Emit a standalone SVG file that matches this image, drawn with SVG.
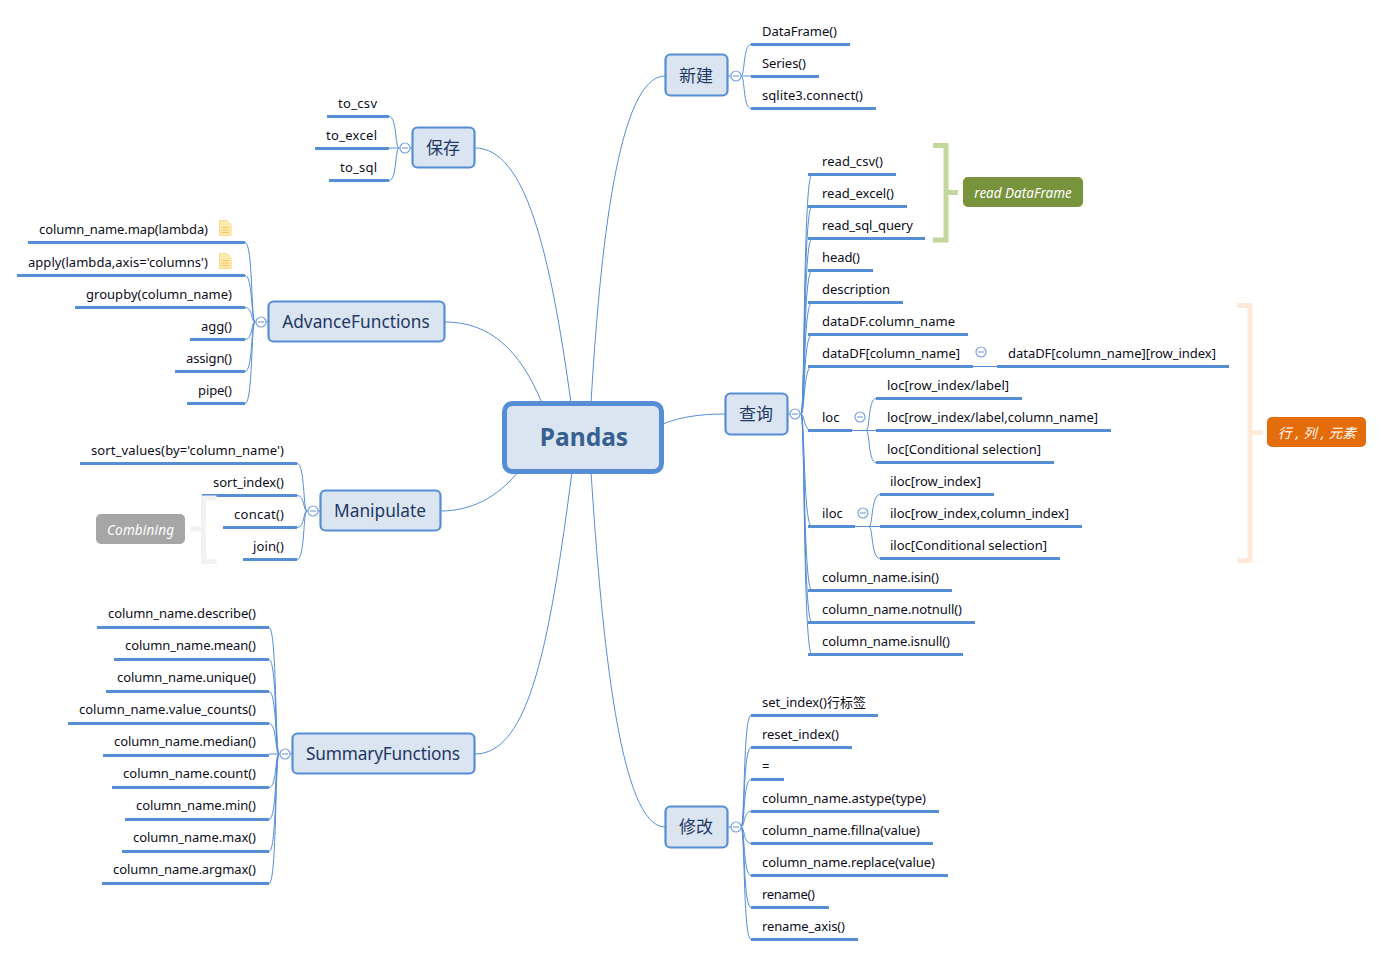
<svg xmlns="http://www.w3.org/2000/svg" width="1382" height="956" viewBox="0 0 1382 956">
<style>
text{font-family:"Noto Sans","Noto Sans CJK SC",sans-serif}
.t{font-size:13px;fill:#0d0d1a}
.r{text-anchor:end}
.h{font-size:17.300px;fill:#1f3864;text-anchor:middle}
.z{font-size:17px}
.b{fill:#dbe5f1;stroke:#558ed5;stroke-width:2.200}
.u{stroke:#558ed5;stroke-width:3;fill:none}
.c{stroke:#558ed5;stroke-width:1;fill:none}
.o{fill:#fff;stroke:#7ba4dc;stroke-width:1.200}
.m{stroke:#7ba4dc;stroke-width:1.200}
.g{font-size:13.500px;font-style:italic;fill:#fff;text-anchor:middle}
.br{fill:none;stroke-width:5}
.n{fill:#fee9ae;stroke:#fbd98a;stroke-width:1}
.nl{stroke:#f6c95c;stroke-width:1}
</style>
<defs>
<g id="col"><circle class="o" r="5"/><path class="m" d="M-3 0H3"/></g>
<g id="note"><path class="n" d="M0 0H7.500L11.500 4V15H0Z"/><path class="nl" d="M2 7H9.500M2 9.500H9.500M2 12H9.500"/></g>
</defs>
<g id="connectors">
<path class="c" d="M591 403C600 250 618 76 665 76"/>
<path class="c" d="M663 424C680 417 700 414 725 414"/>
<path class="c" d="M591 472C602 640 620 827 665 827"/>
<path class="c" d="M571 403C550 250 525 148 475 148"/>
<path class="c" d="M542 403C520 350 490 322 445 322"/>
<path class="c" d="M518 472C497 498 470 511 441 511"/>
<path class="c" d="M572 472C550 640 530 754 475 754"/>
<g id="right-branches" transform="translate(0,-0.500)">
<path class="c" d="M728 76.500H741M741 76.500C745 76.500 743 45 751 45M741 76.500H751M741 76.500C745 76.500 743 109 751 109"/>
<path class="c" d="M788 414.500H801M801 414.500C805 414.500 803 175 812 175M801 414.500C805 414.500 803 207 812 207M801 414.500C805 414.500 803 239 812 239M801 414.500C805 414.500 803 271 812 271M801 414.500C805 414.500 803 303 812 303M801 414.500C805 414.500 803 335 812 335M801 414.500C805 414.500 803 367 812 367M801 414.500C805 414.500 803 431 812 431M801 414.500C805 414.500 803 527 812 527M801 414.500C805 414.500 803 591 812 591M801 414.500C805 414.500 803 623 812 623M801 414.500C805 414.500 803 655 812 655"/>
<path class="c" d="M973 367H997M852 431H876M866 431C870 431 868 399 876 399M866 431C870 431 868 463 876 463M855 527H880M869 527C873 527 871 495 880 495M869 527C873 527 871 559 880 559"/>
<path class="c" d="M728 827.500H741M741 827.500C745 827.500 743 716 751 716M741 827.500C745 827.500 743 748 751 748M741 827.500C745 827.500 743 780 751 780M741 827.500C745 827.500 743 812 751 812M741 827.500C745 827.500 743 844 751 844M741 827.500C745 827.500 743 876 751 876M741 827.500C745 827.500 743 908 751 908M741 827.500C745 827.500 743 940 751 940"/>
<path class="u" d="M751 45H850M751 77H819M751 109H876"/>
<path class="u" d="M808 175H896M808 207H907M808 239H925M808 271H873M808 303H903M808 335H968M808 367H973M808 431H852M808 527H855M808 591H952M808 623H975M808 655H963"/>
<path class="u" d="M997 367H1229M876 399H1022M876 431H1111M876 463H1054M880 495H994M880 527H1082M880 559H1060"/>
<path class="u" d="M751 716H878M751 748H852M751 780H784M751 812H939M751 844H933M751 876H948M751 908H829M751 940H858"/>
</g>
<g id="left-branches" transform="translate(0,0.500)">
<path class="c" d="M412 147.500H399M399 147.500C395 147.500 397 116 389 116M399 147.500H389M399 147.500C395 147.500 397 180 389 180"/>
<path class="c" d="M268 321.500H255M255 321.500C251 321.500 253 242 245 242M255 321.500C251 321.500 253 275 245 275M255 321.500C251 321.500 253 307 245 307M255 321.500C251 321.500 253 339 245 339M255 321.500C251 321.500 253 371 245 371M255 321.500C251 321.500 253 403 245 403"/>
<path class="c" d="M320 510.500H307M307 510.500C303 510.500 305 463 297 463M307 510.500C303 510.500 305 495 297 495M307 510.500C303 510.500 305 527 297 527M307 510.500C303 510.500 305 559 297 559"/>
<path class="c" d="M292 753.500H279M279 753.500C275 753.500 277 627 269 627M279 753.500C275 753.500 277 659 269 659M279 753.500C275 753.500 277 691 269 691M279 753.500C275 753.500 277 723 269 723M279 753.500H269M279 753.500C275 753.500 277 787 269 787M279 753.500C275 753.500 277 819 269 819M279 753.500C275 753.500 277 851 269 851M279 753.500C275 753.500 277 883 269 883"/>
<path class="u" d="M327 116H389M315 148H389M329 180H389"/>
<path class="u" d="M28 242H245M17 275H245M75 307H245M190 339H245M175 371H245M187 403H245"/>
<path class="u" d="M80 463H297M202 495H297M223 527H297M243 559H297"/>
<path class="u" d="M97 627H269M114 659H269M106 691H269M68 723H269M103 755H269M112 787H269M125 819H269M122 851H269M102 883H269"/>
</g>
</g>
<g id="pandas"><rect x="504.500" y="403.500" width="157" height="68" rx="8" fill="#dbe5f1" stroke="#558ed5" stroke-width="5"/><text x="584" y="446" text-anchor="middle" font-size="24.500" font-weight="700" fill="#376092">Pandas</text></g>
<g id="xinjian"><rect class="b" x="665.500" y="54.500" width="62" height="41" rx="5"/><text class="h z" x="696" y="82">新建</text><use href="#col" x="736" y="76"/>
<text class="t" x="762" y="36" textLength="75">DataFrame()</text><text class="t" x="762" y="68" textLength="44">Series()</text><text class="t" x="762" y="100" textLength="101">sqlite3.connect()</text></g>
<g id="chaxun"><rect class="b" x="725.500" y="393.500" width="62" height="41" rx="5"/><text class="h z" x="756" y="420">查询</text><use href="#col" x="795" y="414"/>
<text class="t" x="822" y="166" textLength="61">read_csv()</text><text class="t" x="822" y="198" textLength="72">read_excel()</text><text class="t" x="822" y="230" textLength="91">read_sql_query</text><text class="t" x="822" y="262" textLength="38">head()</text><text class="t" x="822" y="294" textLength="68">description</text><text class="t" x="822" y="326" textLength="133">dataDF.column_name</text><text class="t" x="822" y="358" textLength="138">dataDF[column_name]</text><text class="t" x="822" y="422">loc</text><text class="t" x="822" y="518">iloc</text><text class="t" x="822" y="582" textLength="117">column_name.isin()</text><text class="t" x="822" y="614" textLength="140">column_name.notnull()</text><text class="t" x="822" y="646" textLength="128">column_name.isnull()</text>
<use href="#col" x="981" y="352"/><text class="t" x="1008" y="358" textLength="208">dataDF[column_name][row_index]</text>
<use href="#col" x="860" y="417"/><text class="t" x="887" y="390" textLength="122">loc[row_index/label]</text><text class="t" x="887" y="422" textLength="211">loc[row_index/label,column_name]</text><text class="t" x="887" y="454" textLength="154">loc[Conditional selection]</text>
<use href="#col" x="863" y="513"/><text class="t" x="890" y="486" textLength="91">iloc[row_index]</text><text class="t" x="890" y="518" textLength="179">iloc[row_index,column_index]</text><text class="t" x="890" y="550" textLength="157">iloc[Conditional selection]</text></g>
<g id="xiugai"><rect class="b" x="665.500" y="806.500" width="62" height="41" rx="5"/><text class="h z" x="696" y="833">修改</text><use href="#col" x="736" y="827"/>
<text class="t" x="762" y="707" textLength="104">set_index()行标签</text><text class="t" x="762" y="739" textLength="77">reset_index()</text><text class="t" x="762" y="771">=</text><text class="t" x="762" y="803" textLength="164">column_name.astype(type)</text><text class="t" x="762" y="835" textLength="158">column_name.fillna(value)</text><text class="t" x="762" y="867" textLength="173">column_name.replace(value)</text><text class="t" x="762" y="899" textLength="53">rename()</text><text class="t" x="762" y="931" textLength="83">rename_axis()</text></g>
<g id="baocun"><rect class="b" x="412.500" y="127.500" width="62" height="40" rx="5"/><text class="h z" x="443" y="154">保存</text><use href="#col" x="405" y="148"/>
<text class="t r" x="377" y="108" textLength="39">to_csv</text><text class="t r" x="377" y="140" textLength="51">to_excel</text><text class="t r" x="377" y="172" textLength="37">to_sql</text></g>
<g id="advance"><rect class="b" x="268.500" y="301.500" width="176" height="40" rx="5"/><text class="h" x="356" y="328">AdvanceFunctions</text><use href="#col" x="261" y="322"/>
<text class="t r" x="208" y="234" textLength="169">column_name.map(lambda)</text><text class="t r" x="208" y="267" textLength="180">apply(lambda,axis='columns')</text><text class="t r" x="232" y="299" textLength="146">groupby(column_name)</text><text class="t r" x="232" y="331" textLength="31">agg()</text><text class="t r" x="232" y="363" textLength="46">assign()</text><text class="t r" x="232" y="395" textLength="34">pipe()</text>
<use href="#note" x="219.500" y="220.500"/><use href="#note" x="219.500" y="253.500"/></g>
<g id="manipulate"><rect class="b" x="320.500" y="490.500" width="120" height="40" rx="5"/><text class="h" x="380" y="517">Manipulate</text><use href="#col" x="313" y="511"/>
<text class="t r" x="284" y="455" textLength="193">sort_values(by='column_name')</text><text class="t r" x="284" y="487" textLength="71">sort_index()</text><text class="t r" x="284" y="519" textLength="50">concat()</text><text class="t r" x="284" y="551" textLength="31">join()</text></g>
<g id="summary"><rect class="b" x="292.500" y="733.500" width="182" height="40" rx="5"/><text class="h" x="383" y="760" textLength="154">SummaryFunctions</text><use href="#col" x="285" y="754"/>
<text class="t r" x="256" y="618" textLength="148">column_name.describe()</text><text class="t r" x="256" y="650" textLength="131">column_name.mean()</text><text class="t r" x="256" y="682" textLength="139">column_name.unique()</text><text class="t r" x="256" y="714" textLength="177">column_name.value_counts()</text><text class="t r" x="256" y="746" textLength="142">column_name.median()</text><text class="t r" x="256" y="778" textLength="133">column_name.count()</text><text class="t r" x="256" y="810" textLength="120">column_name.min()</text><text class="t r" x="256" y="842" textLength="123">column_name.max()</text><text class="t r" x="256" y="874" textLength="143">column_name.argmax()</text></g>
<g id="tag-read"><path class="br" stroke="#c3d69b" d="M933 145.500H946V240H933M946 192.500H958"/><rect x="963" y="177" width="120" height="30" rx="5" fill="#77933c"/><text class="g" x="1023" y="198">read DataFrame</text></g>
<g id="tag-row"><path class="br" stroke="#fdeada" d="M1237 305.500H1250V560.500H1237M1250 432.500H1262.500"/><rect x="1267" y="417" width="99" height="30" rx="5" fill="#e46c0a"/><text class="g" x="1317" y="438" textLength="78">行 , 列 , 元素</text></g>
<g id="tag-combining"><path class="br" stroke="#f2f2f2" d="M216.500 498H203.500V561.500H216.500M203.500 529H190"/><rect x="96" y="514" width="89" height="30" rx="5" fill="#a6a6a6"/><text class="g" x="140.500" y="535" textLength="67">Combining</text></g>
</svg>
